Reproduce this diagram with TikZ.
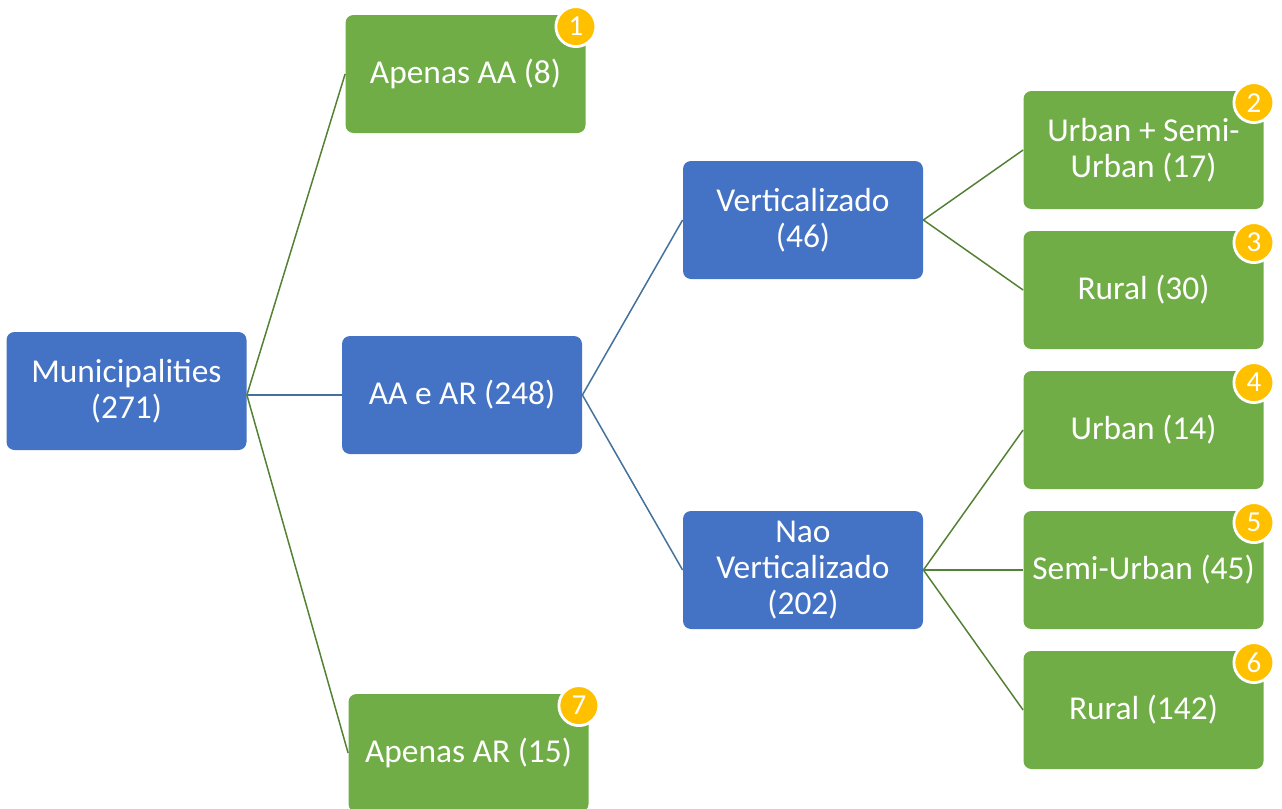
\documentclass[tikz,border=0pt]{standalone}
\usepackage{fontspec}
\setmainfont{Carlito}
\definecolor{boxblue}{HTML}{4472C4}
\definecolor{boxgreen}{HTML}{70AD47}
\definecolor{linkgreen}{HTML}{548235}
\definecolor{linkblue}{HTML}{41719C}
\definecolor{badge}{HTML}{FFC000}
\tikzset{
  cat/.style   = {rounded corners=4pt, minimum width=120pt, minimum height=59pt,
                  inner sep=2pt, align=center, text=white,
                  font=\fontsize{16.7}{17.8}\selectfont},
  split/.style = {cat, fill=boxblue},
  leaf/.style  = {cat, fill=boxgreen},
  tag/.style   = {circle, fill=badge, draw=white, line width=1.4pt, minimum size=20pt,
                  inner sep=0pt, text=white, font=\fontsize{14.5}{14.5}\selectfont},
  glink/.style = {draw=linkgreen, line width=0.75pt},
  blink/.style = {draw=linkblue, line width=0.75pt},
}

\begin{document}
\begin{tikzpicture}[x=0.5pt,y=-0.5pt]
      \clip (0,0) rectangle (1282,809);
      \node[split] (mun)   at (126.5,391) {Municipalities\\(271)};
      \node[leaf]  (apaa)  at (465.5,74)  {Apenas AA (8)};
      \node[split] (aaar)  at (462,395)   {AA e AR (248)};
      \node[leaf]  (apar)  at (468.5,753) {Apenas AR (15)};
      \node[split] (vert)  at (803,220)   {Verticalizado\\(46)};
      \node[split] (nvert) at (803,570)   {Nao\\Verticalizado\\(202)};
      \node[leaf]  (ursu)  at (1143.5,150) {Urban + Semi-\\Urban (17)};
      \node[leaf]  (rur1)  at (1143.5,290) {Rural (30)};
      \node[leaf]  (urb)   at (1143.5,430) {Urban (14)};
      \node[leaf]  (semi)  at (1143.5,570) {Semi-Urban (45)};
      \node[leaf]  (rur2)  at (1143.5,710) {Rural (142)};
      \draw[glink] (mun.east |- aaar.west) -- (apaa.west);
      \draw[blink] (mun.east |- aaar.west) -- (aaar.west);
      \draw[glink] (mun.east |- aaar.west) -- (apar.west);
      \draw[blink] (aaar.east) -- (vert.west);
      \draw[blink] (aaar.east) -- (nvert.west);
      \foreach \c in {ursu,rur1}
        \draw[glink] (vert.east) -- (\c.west);
      \foreach \c in {urb,semi,rur2}
        \draw[glink] (nvert.east) -- (\c.west);
      \foreach \b/\n in {apaa/1,ursu/2,rur1/3,urb/4,semi/5,rur2/6,apar/7}
        \node[tag] (tag\n) at ([shift={(-10,12)}]\b.north east) {\n};
    \end{tikzpicture}
\end{document}
